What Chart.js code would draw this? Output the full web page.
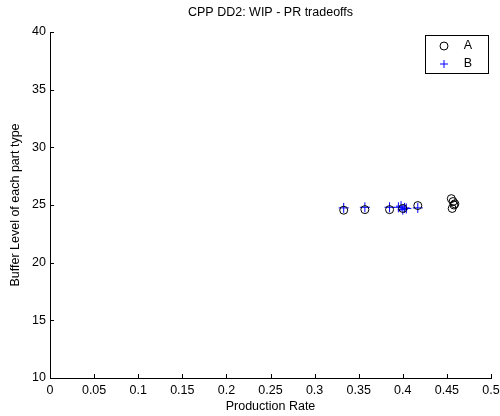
<!DOCTYPE html>
<html>
<head>
<meta charset="utf-8">
<script src="https://cdn.jsdelivr.net/npm/chart.js@4.4.0/dist/chart.umd.min.js"></script>
<style>
  body { margin: 0; background: #fff; }
  canvas { display: block; }
</style>
</head>
<body>
<canvas id="myChart" width="500" height="416"></canvas>
<script>
// data
const rateA = [0.333, 0.357, 0.385, 0.400, 0.417, 0.455, 0.457, 0.458, 0.456, 0.459];
const bufferA = [24.55, 24.6, 24.6, 24.7, 24.95, 25.55, 25.3, 25.0, 24.7, 25.1];
const rateB = [0.333, 0.357, 0.385, 0.395, 0.398, 0.400, 0.402, 0.404, 0.417];
const bufferB = [24.75, 24.8, 24.8, 24.8, 24.9, 24.6, 24.75, 24.7, 24.75];
const xTicks = [0, 0.05, 0.1, 0.15, 0.2, 0.25, 0.3, 0.35, 0.4, 0.45, 0.5];
const yTicks = [10, 15, 20, 25, 30, 35, 40];

const FONT = 'Liberation Sans, Arial, Helvetica, sans-serif';
const FSIZE = 12.5;

function toPoints(xs, ys) {
    return xs.map(function (x, i) { return { x: x, y: ys[i] }; });
}

// matlab style inward tick marks
const innerTicks = {
    id: 'innerTicks',
    afterDraw: function (chart) {
        const ctx = chart.ctx;
        const xs = chart.scales.x, ys = chart.scales.y;
        const area = chart.chartArea;
        ctx.save();
        ctx.strokeStyle = '#000';
        ctx.lineWidth = 1;
        ctx.beginPath();
        xTicks.forEach(function (v) {
            const px = Math.round(xs.getPixelForValue(v)) + 0.5;
            ctx.moveTo(px, area.bottom);
            ctx.lineTo(px, area.bottom - 4);
        });
        yTicks.forEach(function (v) {
            const py = Math.round(ys.getPixelForValue(v)) + 0.5;
            ctx.moveTo(area.left, py);
            ctx.lineTo(area.left + 4, py);
        });
        ctx.stroke();
        ctx.restore();
    }
};

// boxed legend in the top right corner
const boxLegend = {
    id: 'boxLegend',
    afterDraw: function (chart) {
        const ctx = chart.ctx;
        const area = chart.chartArea;
        const left = area.right - 66, top = area.top + 3;
        const w = 63, h = 38;
        ctx.save();
        ctx.fillStyle = '#fff';
        ctx.fillRect(left, top, w, h);
        ctx.strokeStyle = '#000';
        ctx.lineWidth = 1;
        ctx.strokeRect(Math.round(left) + 0.5, Math.round(top) + 0.5, w, h);
        ctx.font = FSIZE + 'px ' + FONT;
        ctx.textBaseline = 'middle';
        ctx.textAlign = 'center';
        chart.data.datasets.forEach(function (ds, i) {
            const y = top + 11 + i * 18;
            ctx.strokeStyle = ds.borderColor;
            ctx.fillStyle = 'rgba(0,0,0,0)';
            Chart.helpers.drawPoint(ctx, {
                pointStyle: ds.pointStyle,
                radius: 4,
                borderWidth: ds.borderWidth
            }, left + 19, y);
            ctx.fillStyle = '#000';
            ctx.fillText(ds.label, left + 43, y);
        });
        ctx.restore();
    }
};

const data = {
    datasets: [{
        label: 'A',
        data: toPoints(rateA, bufferA),
        pointStyle: 'circle',
        pointRadius: 4,
        borderColor: '#000000',
        backgroundColor: 'rgba(0,0,0,0)',
        borderWidth: 1
    }, {
        label: 'B',
        data: toPoints(rateB, bufferB),
        pointStyle: 'cross',
        pointRadius: 5,
        borderColor: '#0000ff',
        backgroundColor: '#0000ff',
        borderWidth: 1
    }]
};

const config = {
    type: 'scatter',
    data: data,
    options: {
        responsive: false,
        animation: false,
        layout: { padding: { right: 9 } },
        plugins: {
            legend: { display: false },
            tooltip: { enabled: false },
            title: {
                display: true,
                fullSize: false,
                text: 'CPP DD2: WIP - PR tradeoffs',
                color: '#000',
                font: { family: FONT, size: FSIZE, weight: 'normal', lineHeight: 1.2 },
                padding: { top: 5, bottom: 12 }
            }
        },
        scales: {
            x: {
                type: 'linear',
                min: 0,
                max: 0.5,
                afterFit: function (s) {
                    s.height = 38;
                    s.paddingLeft = 0;
                    s.paddingRight = 0;
                },
                afterBuildTicks: function (s) { s.ticks = xTicks.map(function (v) { return { value: v }; }); },
                grid: { display: false, drawTicks: false },
                border: { display: true, color: '#000', width: 1 },
                ticks: {
                    color: '#000',
                    padding: 5,
                    maxRotation: 0,
                    font: { family: FONT, size: FSIZE },
                    callback: function (v) { return String(v); }
                },
                title: {
                    display: true,
                    text: 'Production Rate',
                    color: '#000',
                    font: { family: FONT, size: FSIZE },
                    padding: { top: 0, bottom: 2 }
                }
            },
            y: {
                type: 'linear',
                min: 10,
                max: 40,
                afterFit: function (s) { s.width = 50; },
                afterBuildTicks: function (s) { s.ticks = yTicks.map(function (v) { return { value: v }; }); },
                grid: { display: false, drawTicks: false },
                border: { display: true, color: '#000', width: 1 },
                ticks: {
                    color: '#000',
                    padding: 4,
                    font: { family: FONT, size: FSIZE }
                },
                title: {
                    display: true,
                    text: 'Buffer Level of each part type',
                    color: '#000',
                    font: { family: FONT, size: FSIZE },
                    padding: { top: 8, bottom: 8 }
                }
            }
        }
    },
    plugins: [innerTicks, boxLegend]
};

const myChart = new Chart(document.getElementById('myChart'), config);
</script>
</body>
</html>
